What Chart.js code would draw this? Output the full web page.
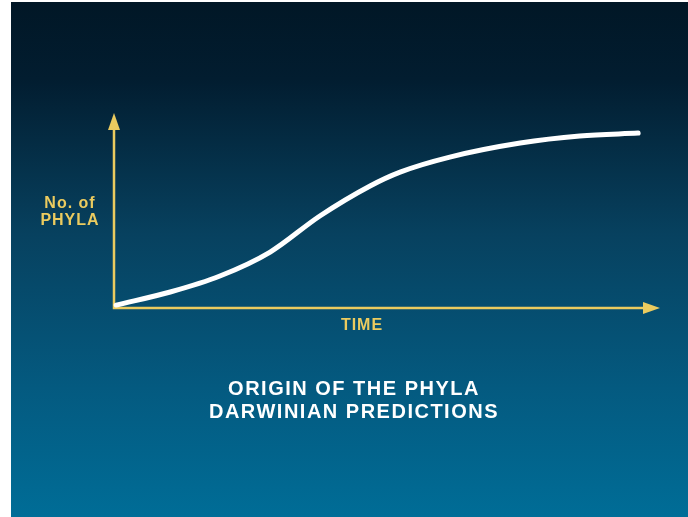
<!DOCTYPE html>
<html>
<head>
<meta charset="utf-8">
<script src="https://cdn.jsdelivr.net/npm/chart.js@4/dist/chart.umd.min.js"></script>
<style>
  body { margin: 0; background: #fff; }
  canvas { display: block; }
</style>
</head>
<body>
<canvas id="phyla" width="688" height="517"></canvas>
<script>
// values (time and phyla both on a 0..100 scale)
const timeValues = [0.4, 10.3, 19.4, 28.6, 37.7, 46.9, 52.4, 61.5, 74.4, 85.3, 96.0];
const phylaValues = [1.5, 8.2, 16.4, 28.7, 47.2, 62.6, 69.7, 77.4, 84.6, 88.2, 89.7];

const yAxisLabel = ["No. of", "PHYLA"];
const xAxisLabel = "TIME";
const titleLines = ["ORIGIN OF THE PHYLA", "DARWINIAN PREDICTIONS"];

const yellow = "#ebcb5f";

const backdrop = {
  id: "backdrop",
  beforeDraw(chart) {
    const ctx = chart.ctx;
    ctx.save();
    ctx.fillStyle = "#fff";
    ctx.fillRect(0, 0, chart.width, chart.height);
    const g = ctx.createLinearGradient(0, 2, 0, chart.height);
    g.addColorStop(0, "#011726");
    g.addColorStop(0.15, "#021d30");
    g.addColorStop(0.45, "#07415f");
    g.addColorStop(0.75, "#045a80");
    g.addColorStop(1, "#006d97");
    ctx.fillStyle = g;
    ctx.fillRect(11, 2, chart.width - 11, chart.height - 2);
    ctx.restore();
  }
};

const arrowAxes = {
  id: "arrowAxes",
  beforeDatasetsDraw(chart) {
    const ctx = chart.ctx;
    const a = chart.chartArea;
    ctx.save();
    ctx.strokeStyle = yellow;
    ctx.fillStyle = yellow;
    ctx.lineWidth = 2.5;
    ctx.beginPath();
    ctx.moveTo(a.left, a.top + 10);
    ctx.lineTo(a.left, a.bottom);
    ctx.lineTo(a.right - 10, a.bottom);
    ctx.stroke();
    // arrow heads
    ctx.beginPath();
    ctx.moveTo(a.left, a.top);
    ctx.lineTo(a.left - 6, a.top + 17);
    ctx.lineTo(a.left + 6, a.top + 17);
    ctx.closePath();
    ctx.fill();
    ctx.beginPath();
    ctx.moveTo(a.right, a.bottom);
    ctx.lineTo(a.right - 17, a.bottom - 6);
    ctx.lineTo(a.right - 17, a.bottom + 6);
    ctx.closePath();
    ctx.fill();
    ctx.restore();
  },
  afterDraw(chart) {
    const ctx = chart.ctx;
    ctx.save();
    ctx.textAlign = "center";
    ctx.textBaseline = "alphabetic";
    ctx.fillStyle = yellow;
    ctx.font = "bold 16px 'Liberation Sans', Arial, sans-serif";
    ctx.letterSpacing = "1px";
    ctx.fillText(yAxisLabel[0], 70, 208);
    ctx.fillText(yAxisLabel[1], 70, 225);
    ctx.fillText(xAxisLabel, 362, 330);
    ctx.fillStyle = "#ffffff";
    ctx.font = "bold 20px 'Liberation Sans', Arial, sans-serif";
    ctx.letterSpacing = "1.5px";
    ctx.fillText(titleLines[0], 354, 395);
    ctx.fillText(titleLines[1], 354, 418);
    ctx.restore();
  }
};

new Chart(document.getElementById("phyla"), {
  type: "line",
  data: {
    datasets: [{
      data: timeValues.map((t, i) => ({ x: t, y: phylaValues[i] })),
      borderColor: "#ffffff",
      borderWidth: 5,
      borderCapStyle: "round",
      pointRadius: 0,
      cubicInterpolationMode: "monotone",
      clip: false
    }]
  },
  options: {
    responsive: false,
    animation: false,
    layout: { padding: { left: 114, top: 113, right: 28, bottom: 209 } },
    scales: {
      x: { type: "linear", min: 0, max: 100, display: false },
      y: { min: 0, max: 100, display: false }
    },
    plugins: {
      legend: { display: false },
      tooltip: { enabled: false }
    }
  },
  plugins: [backdrop, arrowAxes]
});
</script>
</body>
</html>
